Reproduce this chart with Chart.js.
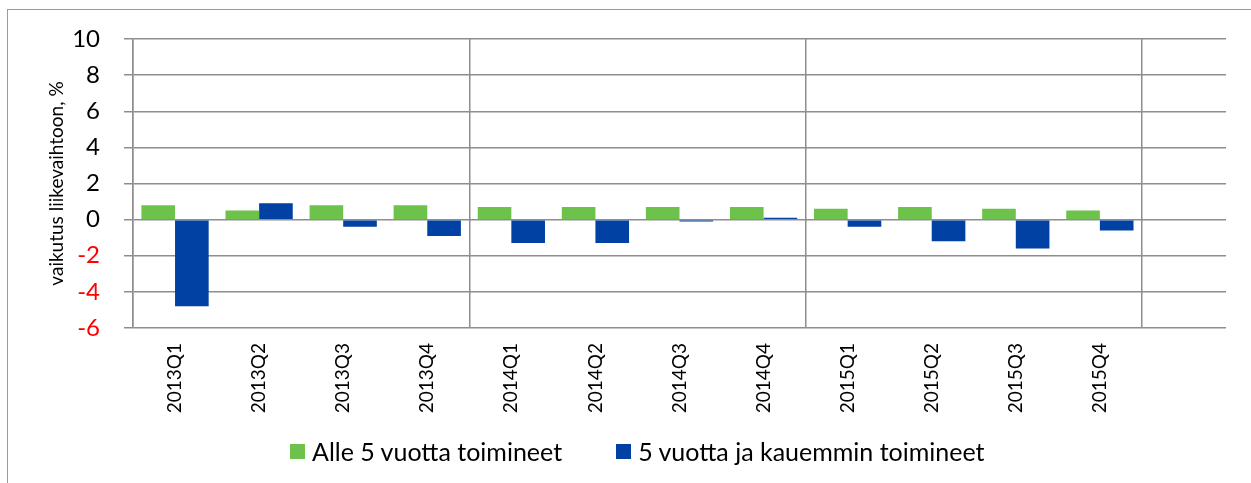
<!DOCTYPE html>
<html>
<head>
<meta charset="utf-8">
<script src="https://cdn.jsdelivr.net/npm/chart.js@4/dist/chart.umd.min.js"></script>
<style>
  html, body { margin: 0; padding: 0; background: #fff; overflow: hidden; }
  #wrap { position: relative; width: 1251px; height: 483px; }
  #frame { position: absolute; left: 7px; top: 9px; width: 1300px; height: 500px;
           border-left: 1px solid #9a9a9a; border-top: 1px solid #9a9a9a; box-sizing: border-box; }
  canvas { position: absolute; left: 0; top: 0; }
  #legend { position: absolute; left: 290px; top: 437px; height: 28px; display: flex; align-items: center;
            font-family: Lato, sans-serif; font-size: 25px; color: #000; white-space: nowrap; }
  .item { display: flex; align-items: center; margin-right: 54px; }
  .box { width: 15px; height: 15px; margin-right: 7px; display: inline-block; }
</style>
</head>
<body>
<div id="wrap">
  <div id="frame"></div>
  <canvas id="c" width="1251" height="483"></canvas>
  <div id="legend"></div>
</div>
<script>
const categories = ['2013Q1','2013Q2','2013Q3','2013Q4','2014Q1','2014Q2','2014Q3','2014Q4','2015Q1','2015Q2','2015Q3','2015Q4',''];
const seriesNames = ['Alle 5 vuotta toimineet', '5 vuotta ja kauemmin toimineet'];
const youngFirms = [0.8, 0.5, 0.8, 0.8, 0.7, 0.7, 0.7, 0.7, 0.6, 0.7, 0.6, 0.5, null];
const olderFirms = [-4.8, 0.9, -0.4, -0.9, -1.3, -1.3, -0.1, 0.1, -0.4, -1.2, -1.6, -0.6, null];
const seriesColors = ['#6cc24b', '#0041a3'];
const yMin = -6, yMax = 10, yStep = 2;
const yTitle = 'vaikutus liikevaihtoon, %';

const gridColor = '#8e8e8e';

const chart = new Chart(document.getElementById('c'), {
  type: 'bar',
  data: {
    labels: categories,
    datasets: [
      { label: seriesNames[0], data: youngFirms, backgroundColor: seriesColors[0], borderWidth: 0 },
      { label: seriesNames[1], data: olderFirms, backgroundColor: seriesColors[1], borderWidth: 0 }
    ]
  },
  options: {
    responsive: false,
    animation: false,
    devicePixelRatio: 1,
    layout: { padding: { left: 0, right: 25, top: 39, bottom: 0 } },
    plugins: { legend: { display: false }, tooltip: { enabled: false } },
    datasets: { bar: { categoryPercentage: 0.8, barPercentage: 1.0 } },
    scales: {
      x: {
        grid: {
          offset: true,
          drawTicks: false,
          lineWidth: 1.5,
          color: (ctx) => (ctx.index % 4 === 0 && ctx.index < categories.length) ? gridColor : 'rgba(0,0,0,0)'
        },
        border: { display: false },
        ticks: {
          minRotation: 90, maxRotation: 90, autoSkip: false, padding: 15,
          color: '#000', font: { family: 'Lato', size: 19 }
        },
        afterFit: (scale) => { scale.height = 155; }
      },
      y: {
        min: yMin, max: yMax,
        grid: { color: gridColor, lineWidth: 1.5, tickLength: 9, drawTicks: true },
        border: { display: true, color: gridColor, width: 1.5 },
        ticks: {
          stepSize: yStep, padding: 24,
          color: (ctx) => ctx.tick.value < 0 ? '#ff0000' : '#000000',
          font: { family: 'Lato', size: 24 }
        },
        title: { display: true, text: yTitle, color: '#000', font: { family: 'Lato', size: 19 }, padding: { top: 45, bottom: 0 } },
        afterFit: (scale) => { scale.width = 133; }
      }
    }
  }
});

const legend = document.getElementById('legend');
chart.data.datasets.forEach((ds) => {
  const item = document.createElement('div');
  item.className = 'item';
  const box = document.createElement('span');
  box.className = 'box';
  box.style.background = ds.backgroundColor;
  const txt = document.createElement('span');
  txt.textContent = ds.label;
  item.appendChild(box);
  item.appendChild(txt);
  legend.appendChild(item);
});
</script>
</body>
</html>
